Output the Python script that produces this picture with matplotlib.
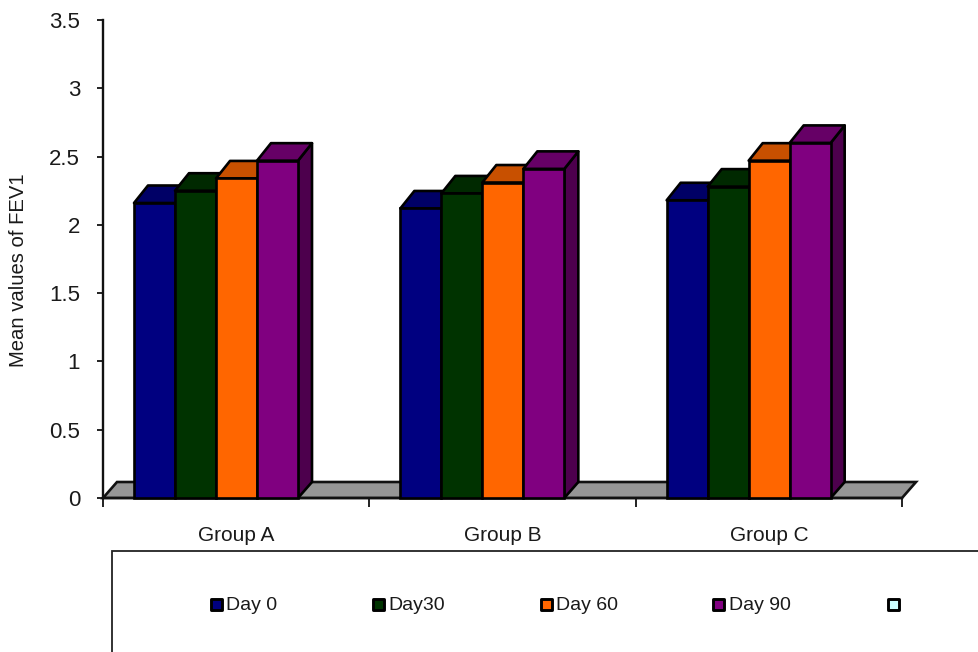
#!/usr/bin/env python3
"""Mean FEV1 per group and visit, drawn as a pseudo-3D clustered bar chart."""

import matplotlib

matplotlib.use("Agg")
import matplotlib.pyplot as plt
from matplotlib.patches import Polygon, Rectangle

plt.rcParams["font.family"] = ["Liberation Sans", "DejaVu Sans"]

groups = ["Group A", "Group B", "Group C"]
day_labels = ["Day 0", "Day30", "Day 60", "Day 90"]
day_0 = [2.16, 2.12, 2.18]
day_30 = [2.25, 2.23, 2.28]
day_60 = [2.34, 2.31, 2.47]
day_90 = [2.47, 2.41, 2.60]
y_ticks = [0, 0.5, 1, 1.5, 2, 2.5, 3, 3.5]
y_tick_labels = ["0", "0.5", "1", "1.5", "2", "2.5", "3", "3.5"]

front_colors = ["#000080", "#003300", "#ff6600", "#800080"]
top_colors = ["#000066", "#002900", "#c85000", "#660066"]
side_colors = ["#00004d", "#001f00", "#993d00", "#4d004d"]
floor_color = "#969696"
empty_key_color = "#ccffff"
text_color = "#1a1a1a"

W, H = 979, 652
LEFT, RIGHT, BASE, TOP = 103, 902, 498, 20
EDGE = 1.9

# depth of the fake 3D extrusion, in data units
DX = 14 / ((RIGHT - LEFT) / 3)
DY = 17.5 / ((BASE - TOP) / 3.5)
FLOOR_DY = 16 / ((BASE - TOP) / 3.5)
BAR_W = 41 / ((RIGHT - LEFT) / 3)
BAR_START = 31 / ((RIGHT - LEFT) / 3)


def draw_bar(ax, x, value, front, top, side):
    ax.add_patch(Polygon(
        [(x + BAR_W, 0), (x + BAR_W + DX, FLOOR_DY), (x + BAR_W + DX, value + DY), (x + BAR_W, value)],
        facecolor=side, edgecolor="black", lw=EDGE, joinstyle="round", clip_on=False, zorder=3,
    ))
    ax.add_patch(Polygon(
        [(x, value), (x + DX, value + DY), (x + BAR_W + DX, value + DY), (x + BAR_W, value)],
        facecolor=top, edgecolor="black", lw=EDGE, joinstyle="round", clip_on=False, zorder=3,
    ))
    ax.bar(x, value, width=BAR_W, align="edge", color=front, edgecolor="black", lw=EDGE,
           clip_on=False, zorder=3)


fig = plt.figure(figsize=(W / 100, H / 100), dpi=100)
ax = fig.add_axes([LEFT / W, 1 - BASE / H, (RIGHT - LEFT) / W, (BASE - TOP) / H])
ax.set_xlim(0, 3)
ax.set_ylim(0, 3.5)

# grey floor running under all the clusters
ax.add_patch(Polygon(
    [(0, 0), (DX, FLOOR_DY), (3 + DX, FLOOR_DY), (3, 0)],
    facecolor=floor_color, edgecolor="#111111", lw=EDGE, clip_on=False, zorder=1,
))

series = [day_0, day_30, day_60, day_90]
for g in range(len(groups)):
    for s, values in enumerate(series):
        x = g + BAR_START + s * BAR_W
        draw_bar(ax, x, values[g], front_colors[s], top_colors[s], side_colors[s])

for side in ("top", "right"):
    ax.spines[side].set_visible(False)
for side in ("left", "bottom"):
    ax.spines[side].set_linewidth(1.7)
    ax.spines[side].set_color("#111111")
    ax.spines[side].set_zorder(2)

ax.set_yticks(y_ticks)
ax.set_yticklabels(y_tick_labels, fontsize=16, color=text_color)
ax.tick_params(axis="y", length=4.5, width=1.3, pad=12, color="#111111")
ax.set_xticks([0, 1, 2, 3])
ax.set_xticklabels([])
ax.tick_params(axis="x", which="major", length=6.5, width=1.3, color="#111111")
ax.set_xticks([0.5, 1.5, 2.5], minor=True)
ax.set_xticklabels(groups, minor=True, fontsize=15, color=text_color)
ax.tick_params(axis="x", which="minor", length=0, pad=20)

fig.text(18.5 / W, 1 - 270 / H, "Mean values of FEV1", rotation=90, ha="center", va="center",
         fontsize=14.6, color=text_color)

# legend frame runs off the right and bottom edges of the figure
fig.add_artist(Rectangle((112 / W, -0.05), 1, 1 - 551 / H + 0.05, transform=fig.transFigure,
                         facecolor="white", edgecolor="#222222", lw=1.3))

key_x = [217, 379, 546, 719, 893]
text_x = [226, 388, 556, 729]
key_colors = front_colors + [empty_key_color]
for kx, color in zip(key_x, key_colors):
    fig.add_artist(Rectangle(((kx - 5.5) / W, 1 - 609.5 / H), 11 / W, 11 / H, transform=fig.transFigure,
                             facecolor=color, edgecolor="black", lw=2.1, joinstyle="round"))
for tx, label in zip(text_x, day_labels):
    fig.text(tx / W, 1 - 606 / H, label, ha="left", va="center", fontsize=14, color=text_color)

fig.savefig("out.png", dpi=100)
